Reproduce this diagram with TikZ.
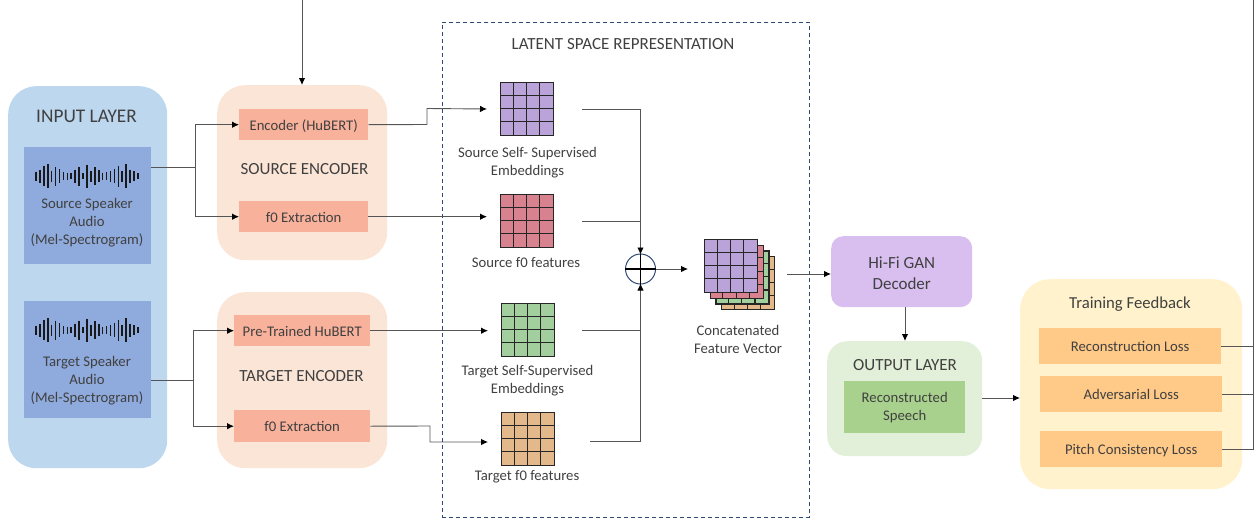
\documentclass[tikz,border=0pt]{standalone}
\usepackage{fontspec}
\setmainfont{Carlito}
\usetikzlibrary{arrows.meta,calc}
\definecolor{inbg}{HTML}{BDD7EE}
\definecolor{inbox}{HTML}{8FAADC}
\definecolor{encbg}{HTML}{FBE5D6}
\definecolor{encbox}{HTML}{F8B19B}
\definecolor{gpurple}{HTML}{B9A3D8}
\definecolor{gred}{HTML}{D9828F}
\definecolor{ggreen}{HTML}{A3CF9E}
\definecolor{gtan}{HTML}{E3B98C}
\definecolor{hifi}{HTML}{D9BFF0}
\definecolor{outbg}{HTML}{E2F0D9}
\definecolor{outbox}{HTML}{A9D18E}
\definecolor{trbg}{HTML}{FFF2CC}
\definecolor{trbox}{HTML}{FFC988}
\definecolor{txt}{HTML}{404040}
\definecolor{navy}{HTML}{2F4A78}
\definecolor{wire}{HTML}{555555}
\tikzset{
  x=1pt,y=-1pt,
  arr/.style={draw=wire,line width=0.9pt,-{Latex[black,length=7pt,width=6.5pt]}},
  wireline/.style={draw=wire,line width=0.9pt},
  lbl/.style={inner sep=0,text=txt,align=center,font=\fontsize{14.7}{18}\selectfont},
  head/.style={inner sep=0,text=txt,align=center,font=\fontsize{17}{20}\selectfont},
  big/.style={inner sep=0,text=txt,align=center,font=\fontsize{19.3}{22}\selectfont},
}
\newcommand{\bx}[8][lbl]{%
  \node[#1,fill=#7,rounded corners=#8,minimum width=#4-#2,minimum height=#5-#3,anchor=north west] (#6) at (#2,#3) {};}
\newcommand{\cellgrid}[4]{% name, x, y, fill
  \node[draw=black!85,line width=1.2pt,fill=#4,minimum width=53,minimum height=53,inner sep=0,anchor=north west] (#1) at (#2,#3) {};
  \foreach \k in {1,2,3}{
    \draw[black!85,line width=1.2pt] ($(#2,#3)+(\k*13.25,0)$) -- ++(0,53);
    \draw[black!85,line width=1.2pt] ($(#2,#3)+(0,\k*13.25)$) -- ++(53,0);
  }}
\newcommand{\wave}[2]{% cx0, cy
  \foreach \h [count=\i from 0] in {9,13,20,24,11,19,14,8,7,6,13,19,6,23,11,18,12,7,8,11,14,21,11,24,13,10,6}{
    \draw[black!90,line width=1.6pt] (#1+\i*3.92,#2-\h/2) -- (#1+\i*3.92,#2+\h/2);
  }}
\begin{document}
\begin{tikzpicture}
\useasboundingbox (0,0) rectangle (1257,525);
\bx{8}{86}{167}{468}{inp}{inbg}{28pt}
\bx{24}{147}{151}{264}{srcaudio}{inbox}{0pt}
\bx{24}{301}{151}{418}{tgtaudio}{inbox}{0pt}
\bx{217}{85}{387}{260}{srcenc}{encbg}{28pt}
\bx{217}{292}{387}{468}{tgtenc}{encbg}{28pt}
\bx{239}{109}{368}{140}{enc}{encbox}{0pt}
\bx{239}{201}{368}{232}{fsrc}{encbox}{0pt}
\bx{234}{315}{370}{346}{pre}{encbox}{0pt}
\bx{234}{410}{370}{442}{ftgt}{encbox}{0pt}
\node[draw=navy,line width=0.9pt,dash pattern=on 4pt off 3pt,minimum width=367,minimum height=495,anchor=north west,inner sep=0] (latent) at (442,22) {};
\bx{831}{236}{972}{307}{gan}{hifi}{12pt}
\bx{827}{341}{982}{456}{outl}{outbg}{20pt}
\bx{844}{381}{965}{433}{rec}{outbox}{0pt}
\bx{1020}{279}{1242}{489}{train}{trbg}{30pt}
\bx{1039}{328}{1221}{364}{lrec}{trbox}{0pt}
\bx{1040}{376}{1222}{412}{ladv}{trbox}{0pt}
\bx{1040}{431}{1222}{467}{lpit}{trbox}{0pt}
\node[big] (t1) at (86.5,116.5) {INPUT LAYER};
\wave{36}{176}
\wave{36}{330}
\node[lbl] (t2) at (87,222.5) {Source Speaker\\Audio\\(Mel-Spectrogram)};
\node[lbl] (t3) at (87,380.5) {Target Speaker\\Audio\\(Mel-Spectrogram)};
\node[lbl] at ([yshift=-1pt]enc.center) {Encoder (HuBERT)};
\node[lbl] at ([yshift=-0.5pt]fsrc.center) {f0 Extraction};
\node[lbl] at ([yshift=-1pt]pre.center) {Pre-Trained HuBERT};
\node[lbl] at ([yshift=-0.5pt]ftgt.center) {f0 Extraction};
\node[head] (t4) at (304.5,169.5) {SOURCE ENCODER};
\node[head] (t5) at (301.5,376.5) {TARGET ENCODER};
\node[lbl,font=\fontsize{17}{20}\selectfont] (t6) at (623,44.5) {LATENT SPACE REPRESENTATION};
\cellgrid{g1}{500}{82}{gpurple}
\cellgrid{g2}{500}{194}{gred}
\cellgrid{g3}{501}{303}{ggreen}
\cellgrid{g4}{501}{412}{gtan}
\node[lbl] (t7) at (527.5,162.5) {Source Self- Supervised\\Embeddings};
\node[lbl] (t8) at (526,262.5) {Source f0 features};
\node[lbl] (t9) at (527.5,380.5) {Target Self-Supervised\\Embeddings};
\node[lbl] (t10) at (527,477) {Target f0 features};
\cellgrid{c4}{721}{256}{gtan}
\cellgrid{c3}{715.3}{250.3}{ggreen}
\cellgrid{c2}{709.6}{244.6}{gred}
\cellgrid{c1}{704}{239}{gpurple}
\node[lbl] (t11) at (738,339.5) {Concatenated\\Feature Vector};
\node[draw=navy,line width=1pt,circle,minimum size=30,inner sep=0] (sum) at (640.5,269) {};
\draw[black,line width=1.1pt] (sum.north) -- (sum.south);
\draw[black,line width=1.1pt] (sum.west) -- (sum.east);
\node[lbl,font=\fontsize{17}{21}\selectfont] at ([yshift=-1.5pt]gan.center) {Hi-Fi GAN\\Decoder};
\node[head] (t12) at (905,365.5) {OUTPUT LAYER};
\node[lbl] at ([yshift=-0.5pt]rec.center) {Reconstructed\\Speech};
\node[lbl,font=\fontsize{16.7}{20}\selectfont] (t13) at (1130,304.5) {Training Feedback};
\node[lbl] at ([yshift=-0.5pt]lrec.center) {Reconstruction Loss};
\node[lbl] at ([yshift=-0.5pt]ladv.center) {Adversarial Loss};
\node[lbl] at ([yshift=-1pt]lpit.center) {Pitch Consistency Loss};
\coordinate (top1) at (302,0);
\coordinate (top2) at (1253,0);
\coordinate (j1) at (195,167);
\coordinate (j2) at (193,380);
\coordinate (ganout) at (905,307);
\draw[arr] (top1) -- (srcenc.north -| top1);
\draw[wireline] (srcaudio.east |- j1) -- (j1);
\draw[arr] (j1) |- (enc.west);
\draw[arr] (j1) |- (fsrc.west);
\draw[wireline] (tgtaudio.east |- j2) -- (j2);
\draw[arr] (j2) |- (pre.west);
\draw[arr] (j2) |- (ftgt.west);
\draw[arr,shorten >=13pt] (enc.east) -- (427,124.5) -- (427,108.5) -- (g1.west);
\draw[arr,shorten >=13pt] (fsrc.east) -- (g2.west |- fsrc.east);
\draw[arr,shorten >=13pt] (pre.east) -- (g3.west |- pre.east);
\draw[arr,shorten >=13pt] (ftgt.east) -- (430,426) -- (430,442) -- (g4.west |- 0,442);
\draw[wireline,shorten <=28pt] (g1.east) -- (sum.north |- g1.east);
\draw[wireline,shorten <=28pt] (g2.east) -- (sum.north |- g2.east);
\draw[wireline,shorten <=27pt] (g3.east) -- (sum.north |- g3.east);
\draw[wireline,shorten <=35pt] (g4.east |- 0,441) -- (sum.south |- 0,441);
\draw[arr,shorten >=-1pt] (sum.north |- g1.east) -- (sum.north);
\draw[arr,shorten >=-1pt] (sum.south |- 0,441) -- (sum.south);
\draw[arr] (sum.east) -- (688,269);
\draw[arr] (787,274) -- (gan.west |- 0,274);
\draw[arr] (ganout) -- (ganout |- outl.north);
\draw[arr] (outl.east |- 0,398) -- (train.west |- 0,398);
\draw[wireline] (lrec.east) -- (lrec.east -| top2);
\draw[wireline] (ladv.east) -- (ladv.east -| top2);
\draw[wireline] (lpit.east) -- (lpit.east -| top2) -- (top2);
\end{tikzpicture}
\end{document}
